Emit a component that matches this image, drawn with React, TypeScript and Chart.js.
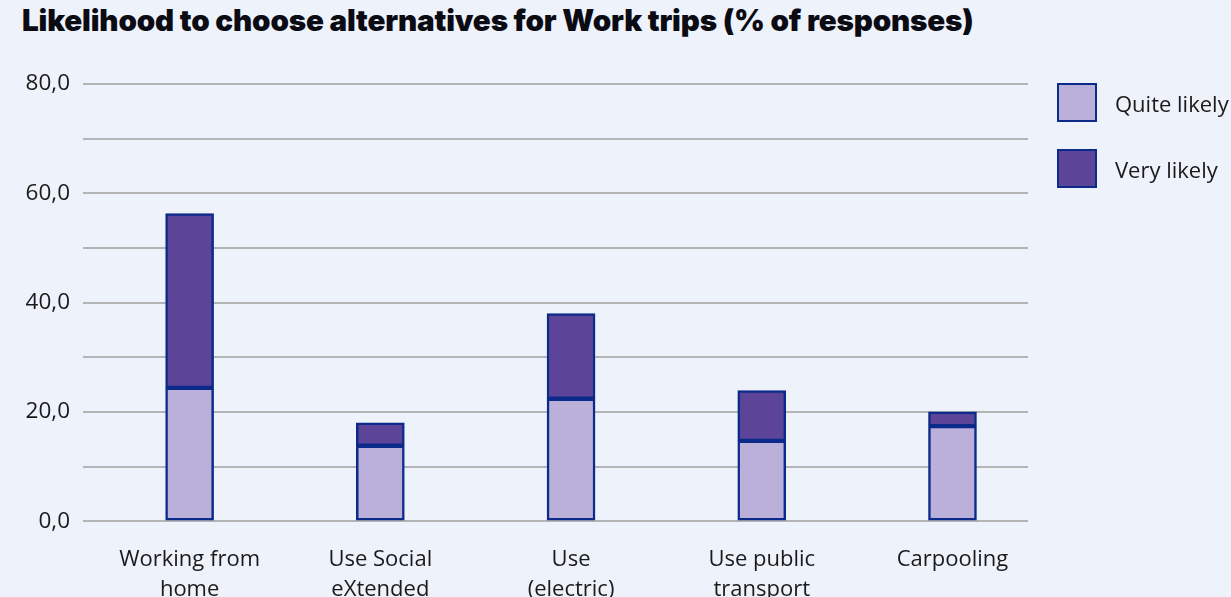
import React, { useEffect, useRef } from "react";
import { Chart, registerables } from "chart.js";

Chart.register(...registerables);

const categories: string[][] = [
  ["Working from", "home"],
  ["Use Social", "eXtended"],
  ["Use", "(electric)"],
  ["Use public", "transport"],
  ["Carpooling"],
];
const quiteLikely: number[] = [24.4, 13.8, 22.4, 14.7, 17.4];
const veryLikely: number[] = [31.9, 4.2, 15.6, 9.2, 2.6];
const seriesNames: string[] = ["Quite likely", "Very likely"];
const yTicks: number[] = [0, 10, 20, 30, 40, 50, 60, 70, 80];

const BG = "#eef2fa";
const LIGHT = "#bbb0da";
const DARK = "#5c4598";
const BORDER = "#0b2a8a";
const FONT = "'Open Sans', 'Noto Sans', sans-serif";

export default function App() {
  const ref = useRef<HTMLCanvasElement | null>(null);

  useEffect(() => {
    if (!ref.current) return;
    const chart = new Chart(ref.current, {
      type: "bar",
      data: {
        datasets: [
          {
            label: seriesNames[0],
            data: quiteLikely.map((v, i) => ({ x: i, y: v })),
            backgroundColor: LIGHT,
            borderColor: BORDER,
            borderWidth: 2.5,
            borderSkipped: false,
            barThickness: 48,
          },
          {
            label: seriesNames[1],
            data: veryLikely.map((v, i) => ({ x: i, y: v })),
            backgroundColor: DARK,
            borderColor: BORDER,
            borderWidth: 2.5,
            borderSkipped: false,
            barThickness: 48,
          },
        ],
      },
      options: {
        animation: false,
        responsive: false,
        maintainAspectRatio: false,
        layout: { padding: { left: 0, right: 203, top: 84, bottom: 11 } },
        plugins: {
          legend: { display: false },
          title: { display: false },
          tooltip: { enabled: false },
        },
        scales: {
          x: {
            type: "linear",
            stacked: true,
            offset: false,
            min: -0.559,
            max: 4.396,
            grid: { display: false, drawTicks: false, offset: false },
            border: { display: false },
            afterBuildTicks: (scale: any) => {
              scale.ticks = categories.map((_, i) => ({ value: i }));
            },
            ticks: {
              autoSkip: false,
              maxRotation: 0,
              padding: 24,
              color: "#1a1a1a",
              font: { family: FONT, size: 22, lineHeight: 1.36 },
              callback: (v: any) => categories[Math.round(Number(v))] ?? "",
            },
          },
          y: {
            stacked: true,
            min: 0,
            max: 80,
            afterBuildTicks: (scale: any) => {
              scale.ticks = yTicks.map((v) => ({ value: v }));
            },
            afterFit: (scale: any) => {
              scale.width = 83;
            },
            grid: { color: "#b4b4b4", lineWidth: 2, drawTicks: false },
            border: { display: false },
            ticks: {
              padding: 13,
              color: "#1a1a1a",
              font: { family: FONT, size: 22.5 },
              callback: (v: any) =>
                Number(v) % 20 === 0 ? Number(v).toFixed(1).replace(".", ",") : "",
            },
          },
        },
      },
    });
    return () => chart.destroy();
  }, []);

  const legendItem = (name: string, color: string, top: number) => (
    <div key={name} style={{ position: "absolute", left: 1057, top, height: 39, display: "flex", alignItems: "center" }}>
      <div style={{ width: 40, height: 39, boxSizing: "border-box", border: `2.5px solid ${BORDER}`, background: color }} />
      <span style={{ marginLeft: 18, fontFamily: FONT, fontSize: 22, color: "#1a1a1a", whiteSpace: "nowrap" }}>{name}</span>
    </div>
  );

  return (
    <div style={{ position: "fixed", left: 0, top: 0, width: 1231, height: 597, overflow: "hidden", background: BG }}>
      <div
        style={{
          position: "absolute",
          left: 22,
          top: 2,
          fontFamily: "Inter, sans-serif",
          fontWeight: 900,
          fontSize: 29.6,
          color: "#0b0b14",
          whiteSpace: "nowrap",
          letterSpacing: -0.15,
        }}
      >
        Likelihood to choose alternatives for Work trips (% of responses)
      </div>
      <canvas ref={ref} width={1231} height={640} style={{ position: "absolute", left: 0, top: 0 }} />
      {legendItem(seriesNames[0], LIGHT, 83)}
      {legendItem(seriesNames[1], DARK, 149)}
    </div>
  );
}
